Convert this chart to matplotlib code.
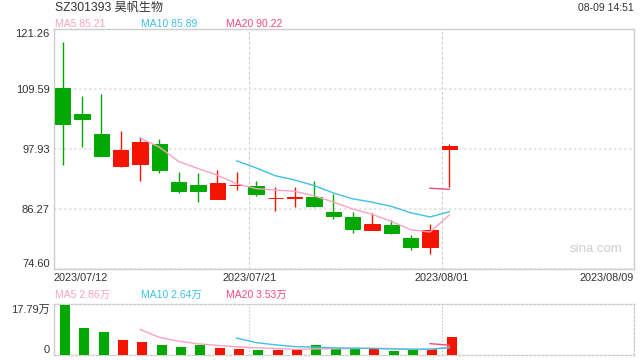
import matplotlib
matplotlib.use("Agg")
import matplotlib.pyplot as plt
import matplotlib.transforms as mtransforms
import numpy as np

plt.rcParams["font.family"] = ["Liberation Sans", "Noto Sans CJK SC"]

# ---- data --------------------------------------------------------------
DATES = ["07/12", "07/13", "07/14", "07/17", "07/18", "07/19", "07/20",
         "07/21", "07/24", "07/25", "07/26", "07/27", "07/28", "07/31",
         "08/01", "08/02", "08/03", "08/04", "08/07", "08/08", "08/09"]
OPEN = [109.79, 104.73, 100.85, 94.68, 95.07, 98.90, 91.51, 90.93, 88.27, 90.93,
        90.74, 88.40, 88.40, 88.60, 85.68, 84.71, 82.24, 83.15, 80.63, 78.94, 97.87]
HIGH = [118.67, 108.23, 108.56, 101.49, 100.26, 99.87, 93.46, 93.32, 93.85, 93.46,
        91.71, 90.54, 90.54, 91.71, 89.24, 85.68, 85.43, 84.13, 81.21, 83.35, 98.90]
LOW = [94.88, 98.26, 96.60, 94.49, 91.77, 93.20, 89.32, 87.63, 88.27, 89.90,
       88.85, 85.82, 86.71, 86.60, 84.38, 81.60, 82.24, 81.46, 78.35, 77.52, 90.60]
CLOSE = [102.85, 103.82, 96.63, 97.79, 99.29, 93.91, 89.82, 89.82, 91.32, 90.93,
         89.24, 88.46, 88.54, 86.91, 84.96, 82.43, 83.35, 81.66, 78.82, 82.18, 98.57]
MA5 = [None, None, None, None, 100.08, 98.29, 95.49, 94.13, 92.83, 91.16, 90.23,
       89.95, 89.70, 88.82, 87.62, 86.26, 85.24, 83.86, 82.24, 81.79, 85.10]
MA10 = [None] * 9 + [95.62, 94.26, 92.72, 91.91, 90.82, 89.39, 88.24, 87.60,
                     86.78, 85.53, 84.72, 85.74]
MA20 = [None] * 19 + [90.30, 90.10]

VOLUME = [17.79, 9.61, 8.18, 5.34, 4.63, 3.56, 2.85, 3.56, 2.49, 2.13, 1.78,
          1.78, 1.78, 3.40, 2.30, 2.20, 2.20, 1.40, 1.80, 2.30, 6.30]
VMA5 = [None, None, None, None, 9.11, 6.26, 4.91, 3.99, 3.42, 2.92, 2.56, 2.35,
        1.99, 2.17, 2.21, 2.29, 2.38, 2.30, 1.98, 1.98, 2.80]
VMA10 = [None] * 9 + [6.01, 4.41, 3.63, 2.99, 2.80, 2.56, 2.43, 2.36, 2.15,
                      2.08, 2.09, 2.55]
VMA20 = [None] * 19 + [4.05, 3.48]

PRICE_TICKS = [74.60, 86.27, 97.93, 109.59, 121.26]
VOL_TICKS = [0, 17.79]
VOL_TICK_LABELS = ["0", "17.79万"]
DATE_LABELS = ["2023/07/12", "2023/07/21", "2023/08/01", "2023/08/09"]
DATE_SLOTS = [-0.45, 9.65, 19.62, 29.55]

TITLE = "SZ301393 昊帆生物"
STAMP = "08-09 14:51"
MA_LABELS = ["MA5 85.21", "MA10 85.89", "MA20 90.22"]
VMA_LABELS = ["MA5 2.86万", "MA10 2.64万", "MA20 3.53万"]

# ---- styles -------------------------------------------------------------
RED = "#f31400"
GREEN = "#00a800"
C_MA5 = "#f9a3c3"
C_MA10 = "#3ec2e2"
C_MA20 = "#f04a80"
FRAME = "#cccccc"
GRID = "#e2e2e2"
TXT = "#333333"
XLIM = (-0.45, 29.55)


def series(vals):
    x = [i for i, v in enumerate(vals) if v is not None]
    y = [v for v in vals if v is not None]
    return x, y


o = np.array(OPEN)
c = np.array(CLOSE)
x = np.arange(len(o))
cols = [RED if cc >= oo else GREEN for oo, cc in zip(o, c)]

fig = plt.figure(figsize=(6.4, 3.6), dpi=100)
ax = fig.add_axes([54 / 640, 1 - 269 / 360, 580 / 640, 240 / 360])
axv = fig.add_axes([54 / 640, 1 - 355 / 360, 580 / 640, 50.7 / 360])

# ---- price panel --------------------------------------------------------
ax.vlines(x, LOW, HIGH, colors=cols, linewidth=1.0, zorder=3)
ax.bar(x, np.abs(c - o), bottom=np.minimum(o, c), width=0.78, color=cols,
       edgecolor=cols, linewidth=0.7, zorder=4)
for vals, col in [(MA5, C_MA5), (MA10, C_MA10), (MA20, C_MA20)]:
    ax.plot(*series(vals), color=col, linewidth=1.0, zorder=5)

ax.set_xlim(*XLIM)
ax.set_ylim(PRICE_TICKS[0], PRICE_TICKS[-1])
ax.set_yticks(PRICE_TICKS)
ax.set_yticklabels([f"{t:.2f}" for t in PRICE_TICKS])
ylabels = ax.get_yticklabels()
ylabels[0].set_va("bottom")
ylabels[-1].set_va("top")
ax.tick_params(axis="y", length=0, pad=3, labelsize=8, labelcolor=TXT)
ax.set_xticks([])
ax.yaxis.grid(True, color=GRID, linestyle=(0, (1.5, 1.5)), linewidth=1.2)
for sp in ax.spines.values():
    sp.set_color(FRAME)
    sp.set_linewidth(1.0)

for gx in DATE_SLOTS[1:3]:
    ax.axvline(gx, color=FRAME, linestyle=(0, (2.5, 2)), linewidth=0.8, zorder=1)
    axv.axvline(gx, color=FRAME, linestyle=(0, (1.5, 1.5)), linewidth=0.8, zorder=1)

trans = mtransforms.blended_transform_factory(ax.transData, ax.transAxes)
for lab, pos, ha in zip(DATE_LABELS, DATE_SLOTS, ["left", "center", "center", "right"]):
    ax.text(pos, -0.0375, lab, transform=trans, ha=ha, va="center",
            fontsize=7.8, color=TXT)

ax.text(0.98, 0.082, "sina.com", transform=ax.transAxes, ha="right",
        va="center", fontsize=9.5, color="#cfcfcf")

# ---- volume panel -------------------------------------------------------
axv.bar(x + 0.12, VOLUME, width=0.52, color=cols, linewidth=0, zorder=3)
for vals, col in [(VMA5, C_MA5), (VMA10, C_MA10), (VMA20, C_MA20)]:
    axv.plot(*series(vals), color=col, linewidth=1.0, zorder=4)
axv.set_xlim(*XLIM)
axv.set_ylim(0, 18.04)
axv.set_yticks(VOL_TICKS)
axv.set_yticklabels(VOL_TICK_LABELS)
vlabels = axv.get_yticklabels()
vlabels[0].set_va("bottom")
vlabels[-1].set_va("top")
axv.tick_params(axis="y", length=0, pad=3, labelsize=8, labelcolor=TXT)
axv.set_xticks([])
for name, sp in axv.spines.items():
    sp.set_color(FRAME)
    sp.set_linewidth(1.0)
    if name != "left":
        sp.set_linestyle((0, (1.5, 1.5)))

# ---- header texts -------------------------------------------------------
fig.text(55 / 640, 1 - 8 / 360, TITLE, ha="left", va="center", fontsize=8.7, color=TXT)
fig.text(634 / 640, 1 - 8 / 360, STAMP, ha="right", va="center", fontsize=7.5, color=TXT)
for lab, px, col in zip(MA_LABELS, [55, 141, 226], [C_MA5, C_MA10, C_MA20]):
    fig.text(px / 640, 1 - 24 / 360, lab, ha="left", va="center", fontsize=7.5, color=col)
for lab, px, col in zip(VMA_LABELS, [55, 141, 226], [C_MA5, C_MA10, C_MA20]):
    fig.text(px / 640, 1 - 295 / 360, lab, ha="left", va="center", fontsize=7.5, color=col)

fig.savefig("out.png", dpi=100, facecolor="white")
